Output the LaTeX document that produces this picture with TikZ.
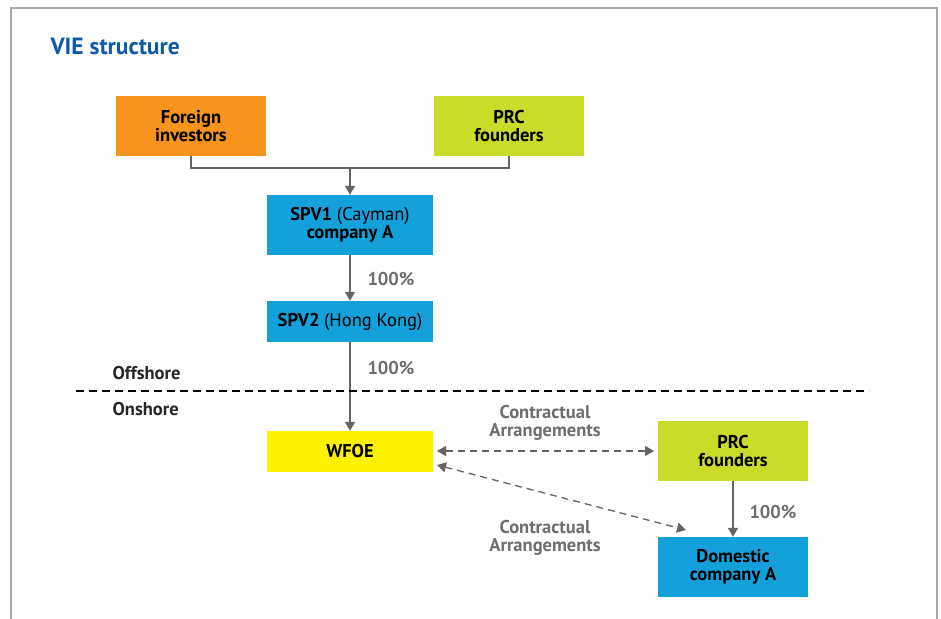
\documentclass[tikz,border=0pt]{standalone}
\usepackage{fontspec}
\setmainfont{PT Sans}
\usetikzlibrary{arrows.meta}
\definecolor{borderg}{HTML}{A7A9AC}
\definecolor{titleblue}{HTML}{0F5AA8}
\definecolor{orangebox}{HTML}{F7941D}
\definecolor{limebox}{HTML}{CBDB2A}
\definecolor{bluebox}{HTML}{13A0DB}
\definecolor{yellowbox}{HTML}{FFF200}
\definecolor{lineg}{HTML}{636466}
\definecolor{labelg}{HTML}{6D6E71}
\tikzset{
  box/.style={minimum width=150pt, minimum height=60pt, inner sep=0pt, align=center, font=\fontsize{18.5}{18}\selectfont\bfseries, text=black},
  widebox/.style={box, minimum width=166pt},
  conn/.style={draw=lineg, line width=1.4pt},
  arr/.style={conn, -{Triangle[length=9pt,width=10pt]}},
  darr/.style={draw=lineg, line width=1.3pt, dash pattern=on 7pt off 5pt, {Triangle[length=9pt,width=10pt]}-{Triangle[length=9pt,width=10pt]}},
  pct/.style={font=\fontsize{18.5}{18}\selectfont\bfseries, text=labelg},
  carr/.style={font=\fontsize{18.5}{18}\selectfont\bfseries, text=labelg, align=center},
  side/.style={font=\fontsize{18.5}{18}\selectfont\bfseries, text=black!85, anchor=west},
}
\begin{document}
\begin{tikzpicture}[x=1pt,y=-1pt]
\useasboundingbox (0,0) rectangle (941,618);
\fill[white] (0,0) rectangle (941,618);
\draw[borderg, line width=1.5pt] (11,620) -- (11,8) -- (937,8) -- (937,620);
\node[anchor=west, font=\fontsize{23.5}{26}\selectfont\bfseries, text=titleblue] (title) at (47,46) {VIE structure};

\node[box, fill=orangebox] (fi) at (191,126) {Foreign\\investors};
\node[box, fill=limebox] (prc1) at (509,126) {PRC\\founders};
\node[widebox, fill=bluebox] (spv1) at (350,225) {SPV1 {\mdseries(Cayman)}\\company A};
\node[widebox, fill=bluebox, minimum height=41pt] (spv2) at (350,321.5) {SPV2 {\mdseries(Hong Kong)}};
\node[widebox, fill=yellowbox, minimum height=41pt] (wfoe) at (350,451.5) {WFOE};
\node[box, fill=limebox] (prc2) at (733,451) {PRC\\founders};
\node[box, fill=bluebox] (dom) at (733,567) {Domestic\\company A};

\coordinate (join) at (350,168);
\draw[conn] (fi.south) |- (join) -| (prc1.south);
\draw[arr] (join) -- (spv1.north);
\draw[arr] (spv1.south) -- (spv2.north);
\draw[arr] (spv2.south) -- (wfoe.north);
\draw[arr] (prc2.south) -- (dom.north);

\node[pct] (p1) at (391,279) {100\%};
\node[pct] (p2) at (391,368) {100\%};
\node[pct] (p3) at (773,512) {100\%};

\coordinate (dl) at (76,391);
\coordinate (dr) at (869,391);
\draw[black, line width=1.8pt, dash pattern=on 8pt off 5pt] (dl) -- (dr);
\node[side] (off) at (109,373) {Offshore};
\node[side] (on) at (109,409) {Onshore};

\coordinate (w1) at (437,451);
\coordinate (p2l) at (654,451);
\draw[darr] (w1) -- (p2l);
\coordinate (w2) at (437,465);
\coordinate (dtip) at (686,530);
\draw[darr] (w2) -- (dtip);

\node[carr] (c1) at (545,423) {Contractual\\Arrangements};
\node[carr] (c2) at (545,538) {Contractual\\Arrangements};
\end{tikzpicture}
\end{document}
